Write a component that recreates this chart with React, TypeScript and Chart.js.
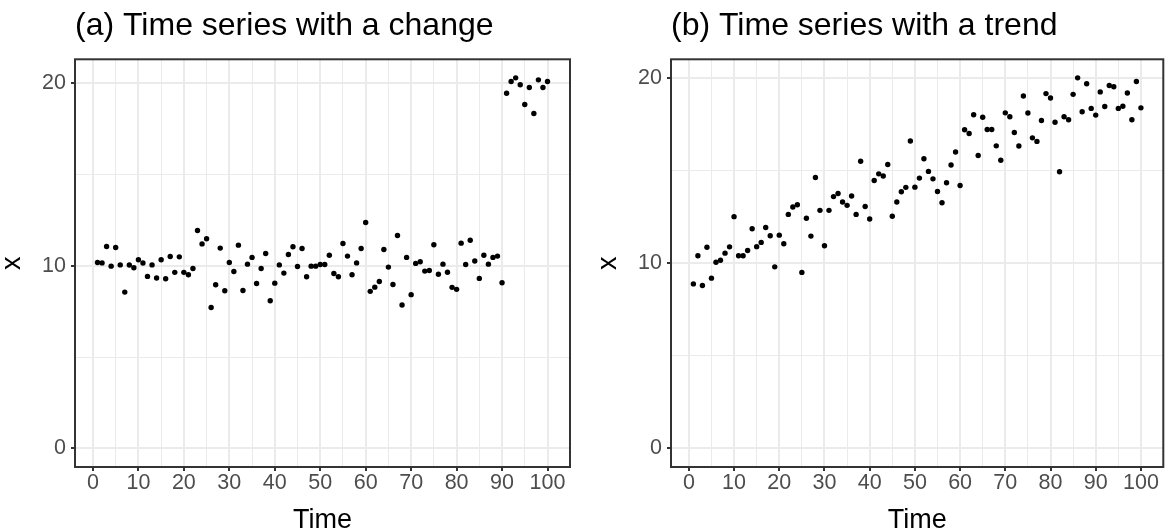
import React, { useEffect, useRef } from "react";
import { Chart, registerables } from "chart.js";

Chart.register(...registerables);

// ---- data ----
const TIME = Array.from({ length: 100 }, (_, i) => i + 1);

const SERIES_CHANGE = [
  10.18, 10.16, 11.06, 9.98, 11.0, 10.05, 8.56, 10.04, 9.89, 10.33,
  10.15, 9.42, 10.05, 9.33, 10.33, 9.29, 10.51, 9.64, 10.49, 9.64,
  9.51, 9.85, 11.93, 11.2, 11.48, 7.72, 8.96, 10.97, 8.63, 10.18,
  9.69, 11.13, 8.65, 10.09, 10.46, 9.03, 9.85, 10.67, 8.09, 9.05,
  10.05, 9.6, 10.62, 11.04, 9.96, 10.95, 9.4, 9.98, 9.98, 10.07,
  10.07, 10.58, 9.58, 9.4, 11.22, 10.53, 9.51, 10.16, 10.95, 12.37,
  8.6, 8.83, 9.14, 10.89, 9.93, 8.98, 11.66, 7.85, 10.46, 8.42,
  10.13, 10.22, 9.71, 9.74, 11.15, 9.54, 10.09, 9.65, 8.82, 8.71,
  11.24, 10.07, 11.4, 10.26, 9.31, 10.58, 10.09, 10.46, 10.53, 9.07,
  19.45, 20.09, 20.29, 19.91, 18.83, 19.76, 18.34, 20.18, 19.76, 20.09,
];

const SERIES_TREND = [
  8.88, 10.4, 8.79, 10.86, 9.19, 10.05, 10.16, 10.54, 10.88, 12.51,
  10.4, 10.4, 10.68, 11.86, 10.89, 11.12, 11.92, 11.48, 9.8, 11.51,
  11.05, 12.63, 13.03, 13.15, 9.5, 12.42, 11.46, 14.62, 12.85, 10.94,
  12.85, 13.59, 13.76, 13.3, 13.12, 13.62, 12.63, 15.5, 13.06, 12.38,
  14.46, 14.82, 14.7, 15.32, 12.53, 13.3, 13.85, 14.09, 16.59, 14.1,
  14.59, 15.63, 14.95, 14.55, 13.87, 13.26, 14.34, 15.3, 16.0, 14.19,
  17.2, 17.0, 18.01, 15.81, 17.87, 17.21, 17.21, 16.33, 15.55, 18.11,
  17.9, 17.05, 16.32, 19.02, 18.1, 16.76, 16.57, 17.7, 19.15, 18.91,
  17.6, 14.93, 17.9, 17.74, 19.11, 20.0, 18.17, 19.68, 18.35, 17.99,
  19.24, 18.45, 19.59, 19.52, 18.35, 18.47, 19.18, 17.74, 19.8, 18.38,
];

const X_MAJOR_TICKS = [0, 10, 20, 30, 40, 50, 60, 70, 80, 90, 100];
const X_MINOR_TICKS = [5, 15, 25, 35, 45, 55, 65, 75, 85, 95];
const Y_MAJOR_TICKS = [0, 10, 20];
const Y_MINOR_TICKS = [5, 15];

const TITLE_A = "(a) Time series with a change";
const TITLE_B = "(b) Time series with a trend";
const X_TITLE = "Time";
const Y_TITLE = "x";

// ---- helpers ----
const FONT = "'Liberation Sans', Arial, Helvetica, sans-serif";
const GRID = "#EBEBEB";
const DARK = "#333333";

const expandRange = (lo: number, hi: number): [number, number] => {
  const pad = (hi - lo) * 0.05;
  return [lo - pad, hi + pad];
};

const panelBorder = {
  id: "panelBorder",
  afterDraw(chart: any) {
    const { ctx, chartArea } = chart;
    const { left, top, right, bottom } = chartArea;
    ctx.save();
    ctx.strokeStyle = DARK;
    ctx.lineWidth = 2;
    ctx.strokeRect(left, top, right - left, bottom - top);
    ctx.restore();
  },
};

function Panel(props: {
  title: string;
  values: number[];
  left: number;
  width: number;
  padRight: number;
}) {
  const ref = useRef<HTMLCanvasElement | null>(null);
  const { title, values, left, width, padRight } = props;

  useEffect(() => {
    if (!ref.current) return;
    const isMajor = (v: number, majors: number[]) => majors.includes(v);
    const xLim = expandRange(Math.min(...TIME), Math.max(...TIME));
    const yLim = expandRange(Math.min(0, ...values), Math.max(...values));
    const xTicks = [...X_MAJOR_TICKS, ...X_MINOR_TICKS].sort((a, b) => a - b);
    const yTicks = [...Y_MAJOR_TICKS, ...Y_MINOR_TICKS].sort((a, b) => a - b);

    const chart = new Chart(ref.current, {
      type: "scatter",
      data: {
        datasets: [
          {
            data: TIME.map((t, i) => ({ x: t, y: values[i] })),
            pointRadius: 2.7,
            pointHoverRadius: 2.7,
            backgroundColor: "#000000",
            borderWidth: 0,
            pointBorderWidth: 0,
          },
        ],
      },
      options: {
        animation: false,
        responsive: false,
        maintainAspectRatio: false,
        devicePixelRatio: 1,
        events: [],
        layout: { padding: { left: 0, right: padRight, top: 0, bottom: 0 } },
        plugins: {
          legend: { display: false },
          tooltip: { enabled: false },
          title: {
            display: true,
            text: title,
            align: "start",
            fullSize: false,
            color: "#000000",
            font: { family: FONT, size: 32, weight: "normal", lineHeight: 1.2 },
            padding: { top: 6.5, bottom: 14.4 },
          },
        },
        scales: {
          x: {
            type: "linear",
            position: "bottom",
            bounds: "data",
            min: xLim[0],
            max: xLim[1],
            afterBuildTicks: (s: any) => {
              s.ticks = xTicks.map((v) => ({ value: v }));
            },
            afterFit: (s: any) => {
              s.height = 64;
            },
            ticks: {
              autoSkip: false,
              maxRotation: 0,
              minRotation: 0,
              padding: 1,
              color: "#4D4D4D",
              font: { family: FONT, size: 21.5, lineHeight: 1.0 },
              callback: (v: any) => (isMajor(Number(v), X_MAJOR_TICKS) ? String(v) : ""),
            },
            grid: {
              color: GRID,
              lineWidth: (c: any) => (isMajor(c.tick?.value, X_MAJOR_TICKS) ? 2 : 1),
              drawTicks: true,
              tickLength: 4,
              tickWidth: 2,
              tickColor: (c: any) =>
                isMajor(c.tick?.value, X_MAJOR_TICKS) ? DARK : "rgba(0,0,0,0)",
            },
            border: { display: false },
            title: {
              display: true,
              text: X_TITLE,
              color: "#000000",
              font: { family: FONT, size: 27, lineHeight: 1.0 },
              padding: { top: 0, bottom: -3 },
            },
          },
          y: {
            type: "linear",
            position: "left",
            bounds: "data",
            min: yLim[0],
            max: yLim[1],
            afterBuildTicks: (s: any) => {
              s.ticks = yTicks.map((v) => ({ value: v }));
            },
            afterFit: (s: any) => {
              s.width = 75;
            },
            ticks: {
              autoSkip: false,
              padding: 5,
              color: "#4D4D4D",
              font: { family: FONT, size: 21.5, lineHeight: 1.0 },
              callback: (v: any) => (isMajor(Number(v), Y_MAJOR_TICKS) ? String(v) : ""),
            },
            grid: {
              color: GRID,
              lineWidth: (c: any) => (isMajor(c.tick?.value, Y_MAJOR_TICKS) ? 2 : 1),
              drawTicks: true,
              tickLength: 4,
              tickWidth: 2,
              tickColor: (c: any) =>
                isMajor(c.tick?.value, Y_MAJOR_TICKS) ? DARK : "rgba(0,0,0,0)",
            },
            border: { display: false },
            title: {
              display: true,
              text: Y_TITLE,
              color: "#000000",
              font: { family: FONT, size: 27, lineHeight: 1.0 },
              padding: { top: -1, bottom: 0 },
            },
          },
        },
      } as any,
      plugins: [panelBorder],
    });
    return () => chart.destroy();
  }, [title, values, padRight]);

  return (
    <div style={{ position: "absolute", left, top: 0, width, height: 531 }}>
      <canvas ref={ref} width={width} height={531} style={{ display: "block" }} />
    </div>
  );
}

export default function App() {
  return (
    <div
      style={{
        position: "absolute",
        left: 0,
        top: 0,
        width: 1166,
        height: 531,
        background: "#ffffff",
        overflow: "hidden",
      }}
    >
      <Panel title={TITLE_A} values={SERIES_CHANGE} left={0} width={596} padRight={26} />
      <Panel title={TITLE_B} values={SERIES_TREND} left={596} width={570} padRight={1} />
    </div>
  );
}
